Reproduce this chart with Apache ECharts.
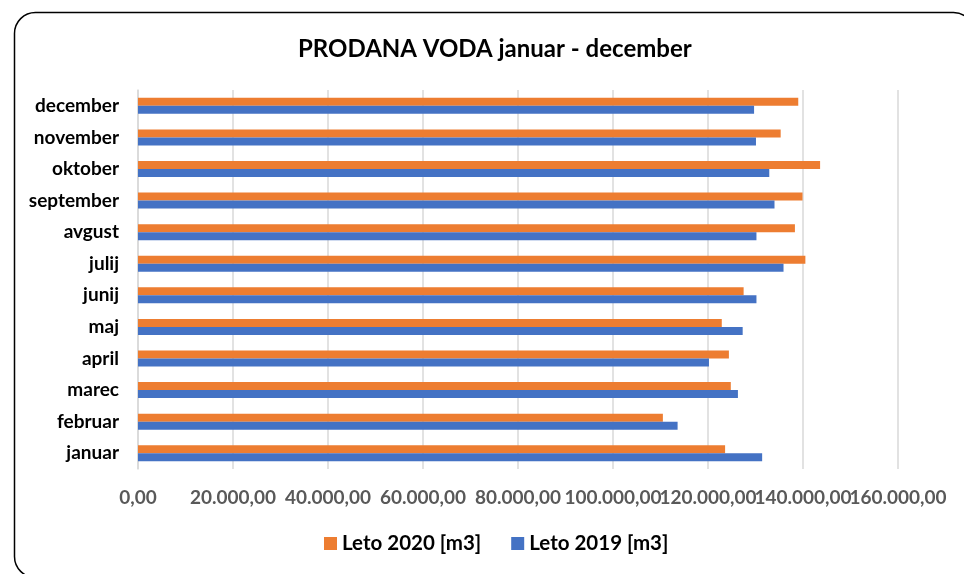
<!DOCTYPE html>
<html lang="sl">
<head>
    <meta charset="UTF-8">
    <title>PRODANA VODA</title>
    <script src="https://cdn.jsdelivr.net/npm/echarts@6/dist/echarts.min.js"></script>
</head>
<body style="margin:0; background:#fff;">
    <div id="bar_container" style="width:964px; height:574px;"></div>

<script type="text/javascript">
    // podatki
    var months = ['januar', 'februar', 'marec', 'april', 'maj', 'junij',
        'julij', 'avgust', 'september', 'oktober', 'november', 'december'];
    var leto2020 = [123600, 110500, 124800, 124400, 122900, 127500,
        140500, 138300, 139900, 143600, 135300, 139000];
    var leto2019 = [131400, 113600, 126300, 120200, 127300, 130200,
        135900, 130200, 134000, 132900, 130100, 129700];
    var xMax = 160000;

    var fontName = 'Lato, "Open Sans", sans-serif';

    function fmt(v) {
        var parts = Math.round(v).toString().replace(/\B(?=(\d{3})+(?!\d))/g, '.');
        return parts + ',00';
    }

    var labelStyle = {
        margin: 19,
        fontSize: 19,
        fontWeight: 'bold',
        color: '#595959',
        fontFamily: fontName
    };

    var myChart = echarts.init(document.getElementById('bar_container'));
    myChart.setOption({
        animation: false,
        textStyle: {fontFamily: fontName},
        title: {
            text: 'PRODANA VODA januar - december',
            left: 293,
            top: 32,
            textStyle: {fontSize: 24, fontWeight: 'bold', color: '#000', fontFamily: fontName}
        },
        graphic: [{
            type: 'rect',
            shape: {x: 14.5, y: 12.5, width: 960, height: 565, r: 21},
            style: {fill: null, stroke: '#000', lineWidth: 1.5},
            silent: true
        }],
        legend: {
            data: ['Leto 2020 [m3]', 'Leto 2019 [m3]'],
            bottom: 15,
            left: 319,
            icon: 'rect',
            itemWidth: 13,
            itemHeight: 13,
            itemGap: 30,
            textStyle: {fontSize: 20.5, fontWeight: 'bold', color: '#000', fontFamily: fontName}
        },
        grid: {left: 138, right: 66, top: 90, bottom: 105},
        xAxis: [{
            type: 'value',
            min: 0,
            max: xMax,
            interval: 20000,
            axisLine: {show: false},
            axisTick: {show: false},
            splitLine: {lineStyle: {color: '#d9d9d9', width: 1.5}},
            axisLabel: Object.assign({formatter: fmt, showMinLabel: true, showMaxLabel: false}, labelStyle)
        }, {
            // second axis only carries the last label (first one hides it on overlap)
            type: 'value',
            position: 'bottom',
            min: 0,
            max: xMax,
            interval: 20000,
            axisLine: {show: false},
            axisTick: {show: false},
            splitLine: {show: false},
            axisLabel: Object.assign({
                formatter: function (v) { return v === xMax ? fmt(v) : ''; },
                showMinLabel: false,
                showMaxLabel: true
            }, labelStyle)
        }],
        yAxis: {
            type: 'category',
            data: months,
            axisLine: {lineStyle: {color: '#d9d9d9', width: 1.5}},
            axisTick: {show: false},
            axisLabel: {
                margin: 19,
                fontSize: 19,
                fontWeight: 'bold',
                color: '#000',
                fontFamily: fontName
            }
        },
        series: [
            {name: 'Leto 2020 [m3]', type: 'bar', data: leto2020, barWidth: 8, barGap: '0%',
                itemStyle: {color: '#ED7D31'}},
            {name: 'Leto 2019 [m3]', type: 'bar', data: leto2019, barWidth: 8, barGap: '0%',
                itemStyle: {color: '#4472C4'}}
        ]
    });
</script>
</body>
</html>
